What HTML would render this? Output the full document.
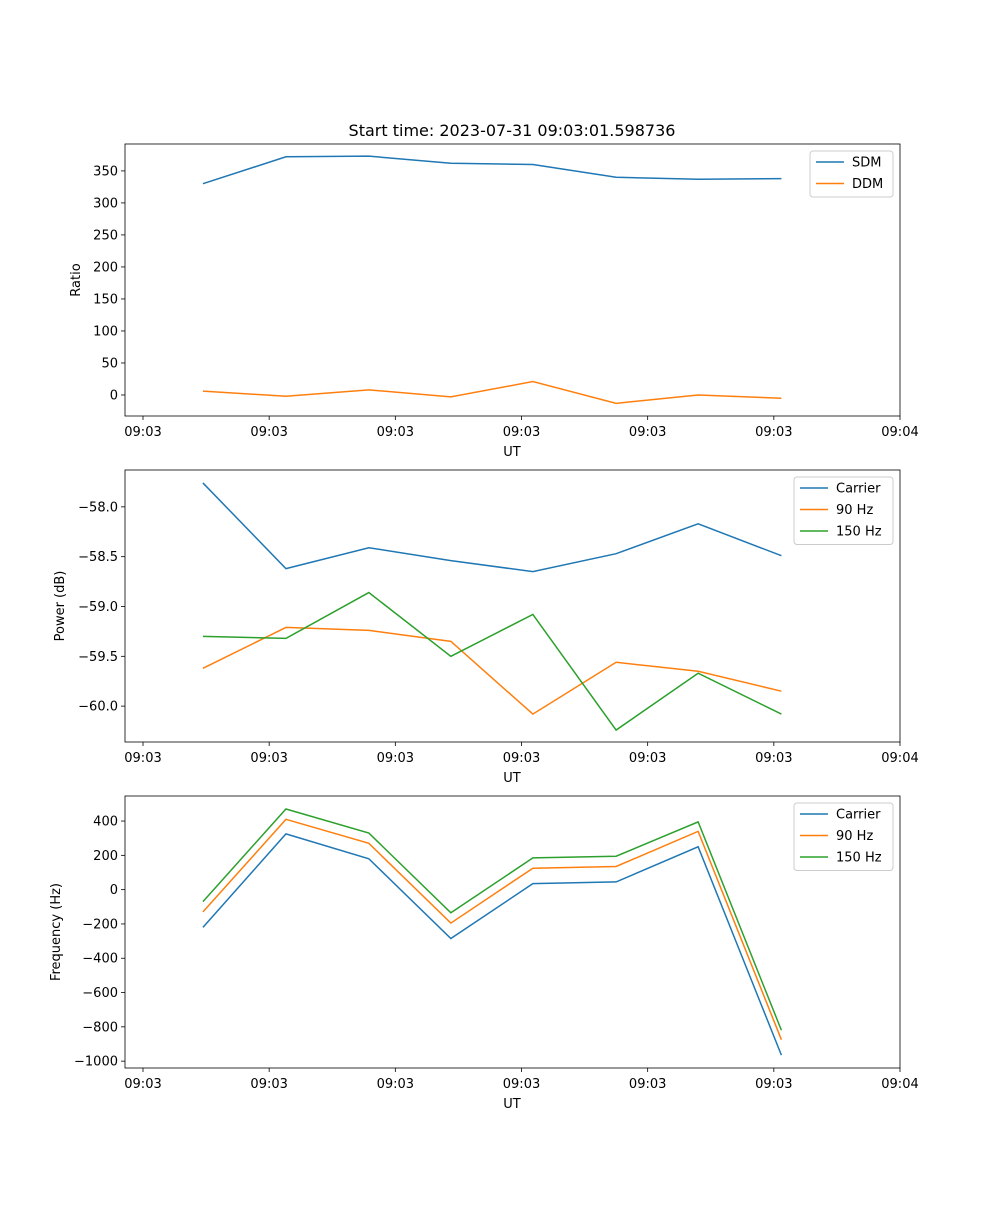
<!DOCTYPE html>
<html><head><meta charset="utf-8"><style>
body{margin:0;background:#fff;font-family:"Liberation Sans","DejaVu Sans",sans-serif}
svg text{font-family:"DejaVu Sans","Liberation Sans",sans-serif;fill:#000}
</style></head><body>
<svg id="chart" width="1000" height="1200" xmlns="http://www.w3.org/2000/svg">
<rect width="1000" height="1200" fill="#fff"/>
<text x="512" y="136" font-size="16" text-anchor="middle">Start time: 2023-07-31 09:03:01.598736</text>
</svg>
<script>
const times=[4.75,11.33,17.9,24.4,30.9,37.5,44.0,50.6];
const xTicks=[0,10,20,30,40,50,60];
const xTickLabels=["09:03","09:03","09:03","09:03","09:03","09:03","09:04"];
const sdm=[330,372,373,362,360,340,337,338];
const ddm=[6,-2,8,-3,21,-13,0,-5];
const pCarrier=[-57.76,-58.62,-58.41,-58.54,-58.65,-58.47,-58.17,-58.49];
const p90=[-59.62,-59.21,-59.24,-59.35,-60.08,-59.56,-59.65,-59.85];
const p150=[-59.30,-59.32,-58.86,-59.50,-59.08,-60.24,-59.67,-60.08];
const fCarrier=[-220,325,180,-285,35,45,250,-965];
const f90=[-130,410,270,-195,125,135,340,-875];
const f150=[-70,470,330,-135,185,195,395,-820];
const ticks1=[0,50,100,150,200,250,300,350];
const ticks2=[-60,-59.5,-59,-58.5,-58];
const ticks3=[-1000,-800,-600,-400,-200,0,200,400];
const C=['#1f77b4','#ff7f0e','#2ca02c'];
const svg=document.getElementById('chart');
const NS='http://www.w3.org/2000/svg';
function mk(t,a,p){const e=document.createElementNS(NS,t);for(const k in a)e.setAttribute(k,a[k]);(p||svg).appendChild(e);return e;}
const X0=125,X1=900;
function xs(t){return 143+(t-0)*(900-143)/60;}
function panel(name,top,bot,ymin,ymax,ticks,fmt,ylabel,ylx,series,legend){
  const g=mk('g',{});
  
  
  const ys=v=>bot-(v-ymin)*(bot-top)/(ymax-ymin);
  ticks.forEach(v=>{const y=ys(v);
    mk('line',{x1:X0-4,x2:X0,y1:y,y2:y,stroke:'#000','stroke-width':0.8},g);
    const t=mk('text',{x:X0-7,y:y+4.5,'font-size':13,'text-anchor':'end'},g);t.textContent=fmt(v);
    
    });
  xTicks.forEach((v,i)=>{const x=xs(v);
    mk('line',{x1:x,x2:x,y1:bot,y2:bot+4,stroke:'#000','stroke-width':0.8},g);
    const t=mk('text',{x:x,y:bot+20,'font-size':13,'text-anchor':'middle'},g);t.textContent=xTickLabels[i];
    
    });
  const xl=mk('text',{x:512,y:bot+40,'font-size':13,'text-anchor':'middle'},g);xl.textContent='UT';
  
  
  const cy=(top+bot)/2;
  const yl=mk('text',{x:ylx,y:cy,'font-size':13,'text-anchor':'middle',transform:`rotate(-90 ${ylx} ${cy})`},g);yl.textContent=ylabel;
  
  
  series.forEach((s,i)=>{
    const l=mk('polyline',{points:s.map((v,j)=>xs(times[j])+','+ys(v)).join(' '),fill:'none',stroke:C[i],'stroke-width':1.5},g);
    
    
  });
  mk('rect',{x:X0,y:top,width:X1-X0,height:bot-top,fill:'none',stroke:'#000','stroke-width':0.8},g);
  const w=legend[0]==='SDM'?83:99, lx=893-w, ly=top+7;
  const lg=mk('g',{},g);
  
  
  mk('rect',{x:lx,y:ly,width:w,height:legend.length*21.5+3,fill:'#fff',stroke:'#ccc',rx:3},lg);
  legend.forEach((n,i)=>{const y=ly+11+i*21.5;
    mk('line',{x1:lx+6,x2:lx+34,y1:y,y2:y,stroke:C[i],'stroke-width':1.5},lg);
    const t=mk('text',{x:lx+42,y:y+4.5,'font-size':13},lg);t.textContent=n;
    
    });
}
const m=s=>s.replace('-','\u2212');
panel('ratio',144,416,-32.8,392,ticks1,v=>m(String(v)),'Ratio',80,[sdm,ddm],['SDM','DDM']);
panel('power',470,742,-60.36,-57.63,ticks2,v=>m(v.toFixed(1)),'Power (dB)',64,[pCarrier,p90,p150],['Carrier','90 Hz','150 Hz']);
panel('frequency',796,1068,-1040,546,ticks3,v=>m(String(v)),'Frequency (Hz)',60,[fCarrier,f90,f150],['Carrier','90 Hz','150 Hz']);
</script>
</body></html>
